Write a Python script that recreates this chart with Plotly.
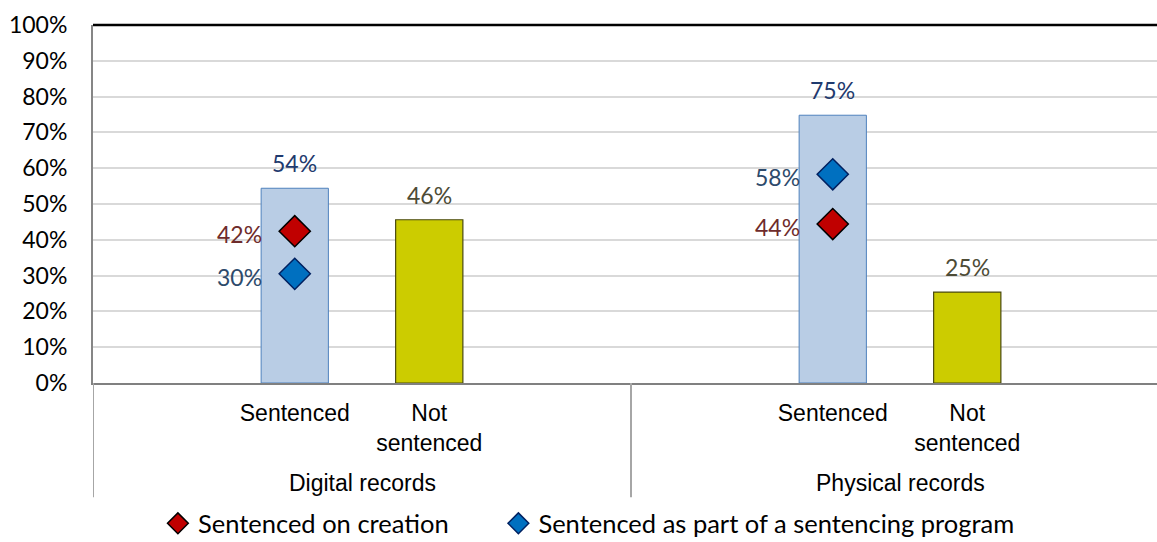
import plotly.graph_objects as go

# ---- data ----
groups = ["Digital records", "Physical records"]
sub_labels = ["Sentenced", "Not<br>sentenced"]
sentenced = [0.544, 0.748]
not_sentenced = [0.456, 0.254]
on_creation = [0.424, 0.444]
program = [0.305, 0.583]
y_ticks = [i / 10 for i in range(11)]

# ---- layout helpers (positions inside each group) ----
off_s, off_n = 0.375, 0.625
x_s = [i + off_s for i in range(len(groups))]
x_n = [i + off_n for i in range(len(groups))]

CAL = "Lato, 'Open Sans', sans-serif"
ARIAL = "'Liberation Sans', Arial, sans-serif"

fig = go.Figure()
fig.add_trace(go.Bar(x=x_s, y=sentenced, width=0.125, showlegend=False,
                     marker=dict(color="#B9CDE5", line=dict(color="#4F81BD", width=1)),
                     hoverinfo="y"))
fig.add_trace(go.Bar(x=x_n, y=not_sentenced, width=0.125, showlegend=False,
                     marker=dict(color="#CCCC00", line=dict(color="#4A4A10", width=1.2)),
                     hoverinfo="y"))
fig.add_trace(go.Scatter(x=x_s, y=on_creation, mode="markers", name="Sentenced on creation",
                         legend="legend",
                         marker=dict(symbol="diamond", size=24, color="#C00000",
                                     line=dict(color="black", width=1.5))))
fig.add_trace(go.Scatter(x=x_s, y=program, mode="markers",
                         name="Sentenced as part of a sentencing program",
                         legend="legend2",
                         marker=dict(symbol="diamond", size=24, color="#0070C0",
                                     line=dict(color="#002060", width=1.5))))

ann = []
for x, v in zip(x_s, sentenced):
    ann.append(dict(x=x, y=v, text=f"{v:.0%}", showarrow=False, yanchor="bottom", yshift=9,
                    font=dict(family=CAL, size=23, color="#1F3A6E")))
for x, v in zip(x_n, not_sentenced):
    ann.append(dict(x=x, y=v, text=f"{v:.0%}", showarrow=False, yanchor="bottom", yshift=9,
                    font=dict(family=CAL, size=23, color="#4D4B36")))
for x, v in zip(x_s, on_creation):
    ann.append(dict(x=x, y=v, text=f"{v:.0%}", showarrow=False, xanchor="right", xshift=-31,
                    yshift=-3, font=dict(family=CAL, size=23, color="#6E2B2B")))
for x, v in zip(x_s, program):
    ann.append(dict(x=x, y=v, text=f"{v:.0%}", showarrow=False, xanchor="right", xshift=-31,
                    yshift=-3, font=dict(family=CAL, size=23, color="#2D4A6B")))
for i, g in enumerate(groups):
    ann.append(dict(x=i + 0.5, y=-0.28, yref="paper", text=g, showarrow=False,
                    yanchor="middle", font=dict(family=ARIAL, size=23, color="black")))

shapes = [dict(type="line", xref="paper", yref="paper", x0=0, x1=1, y0=1, y1=1,
               line=dict(color="black", width=2.5))]
for i in range(len(groups)):
    shapes.append(dict(type="line", xref="x", yref="paper", x0=i, x1=i, y0=0, y1=-0.319,
                       line=dict(color="#A6A6A6", width=2)))

leg_common = dict(orientation="h", xanchor="left", y=-0.393, yanchor="middle",
                  font=dict(family=CAL, size=25.5, color="black"),
                  bgcolor="rgba(0,0,0,0)")

fig.update_layout(
    width=1157, height=542,
    margin=dict(l=93, r=0, t=25, b=159, autoexpand=False),
    paper_bgcolor="white", plot_bgcolor="white",
    barmode="overlay",
    annotations=ann, shapes=shapes,
    xaxis=dict(range=[0, 1064 / 538], tickvals=x_s + x_n,
               ticktext=[sub_labels[0]] * len(groups) + [sub_labels[1]] * len(groups),
               tickfont=dict(family=ARIAL, size=23, color="black"),
               showgrid=False, zeroline=False, showline=True, linecolor="#808080",
               linewidth=2, ticks="", ticklabelstandoff=8, automargin=False),
    yaxis=dict(range=[0, 1], tickvals=y_ticks, tickformat=".0%",
               tickfont=dict(family=CAL, size=23, color="black"),
               showgrid=True, gridcolor="#D9D9D9", gridwidth=1.5, zeroline=False,
               showline=True, linecolor="#868686", linewidth=2, ticks="",
               ticklabelstandoff=19, automargin=False),
    legend=dict(x=0.061, **leg_common),
    legend2=dict(x=0.381, **leg_common),
    showlegend=True,
)

fig.write_html("out.html", config={"displayModeBar": False},
               post_script="document.body.style.margin='0';document.body.style.overflow='hidden';")
